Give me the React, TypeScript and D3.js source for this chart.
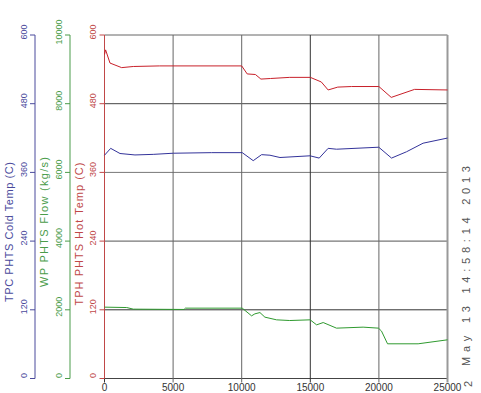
import React, { useEffect, useRef } from "react";
import * as d3 from "d3";

const timeTicks = [0, 5000, 10000, 15000, 20000, 25000];
const tempTicks = [0, 120, 240, 360, 480, 600];
const flowTicks = [0, 2000, 4000, 6000, 8000, 10000];

const hotTime = [0, 80, 400, 1250, 2100, 4000, 10000, 10400, 11000, 11400, 12100, 13500, 15000, 15800, 16300, 17000, 18000, 20000, 20900, 22600, 25000];
const hotTemp = [566, 574, 551, 543, 545, 546, 546, 532, 531, 523, 524, 526, 526, 518, 504, 509, 510, 510, 491, 505, 504];

const coldTime = [0, 450, 1130, 2220, 3550, 5010, 7810, 10040, 10840, 11450, 12060, 12790, 14980, 15650, 16300, 16910, 19990, 20920, 22010, 23220, 25000];
const coldTemp = [390, 402, 393, 390.5, 391.5, 393.5, 394.5, 394.5, 380.5, 391, 390, 386, 389, 385, 402, 400.5, 404, 385, 396, 411, 420];

const flowTime = [0, 1620, 2100, 5800, 5900, 10040, 10720, 10960, 11330, 11690, 12540, 13500, 14990, 15460, 15940, 16910, 18850, 19970, 20190, 20630, 22860, 25000];
const flowValue = [2077, 2066, 2019, 2010, 2048, 2048, 1824, 1882, 1920, 1786, 1708, 1688, 1708, 1562, 1629, 1466, 1495, 1466, 1380, 1010, 1010, 1126];

const stamp = "May 13 14:58:14 2013";

const FONT = "'Liberation Sans', Arial, sans-serif";

export default function App() {
  const ref = useRef<SVGSVGElement>(null);

  useEffect(() => {
    const svg = d3.select(ref.current);
    svg.selectAll("*").remove();

    const x = d3.scaleLinear().domain([0, 25000]).range([104.5, 447.5]);
    const yTemp = d3.scaleLinear().domain([0, 600]).range([378.5, 35]);
    const yFlow = d3.scaleLinear().domain([0, 10000]).range([378.5, 35]);

    const grid = svg.append("g");
    // horizontal grid
    const hColor: Record<number, string> = { 0: "#444", 120: "#333", 240: "#555", 360: "#777", 480: "#444", 600: "#666" };
    grid.selectAll(".h")
      .data(tempTicks)
      .join("line")
      .attr("x1", (d) => (d === 0 ? 100 : x(0)))
      .attr("x2", x(25000))
      .attr("y1", (d) => yTemp(d))
      .attr("y2", (d) => yTemp(d))
      .attr("stroke", (d) => hColor[d])
      .attr("stroke-width", 1);
    // vertical grid
    grid.selectAll(".v")
      .data(timeTicks.slice(1))
      .join("line")
      .attr("x1", (d) => x(d))
      .attr("x2", (d) => x(d))
      .attr("y1", yTemp(600))
      .attr("y2", yTemp(0) + 4)
      .attr("stroke", (d) => (d === 25000 ? "#999" : d === 15000 ? "#333" : "#666"))
      .attr("stroke-width", (d) => (d === 25000 ? 2 : 1));
    grid.append("line")
      .attr("x1", x(0)).attr("x2", x(0))
      .attr("y1", yTemp(0)).attr("y2", yTemp(0) + 4)
      .attr("stroke", "#333");

    // x tick labels
    svg.append("g").selectAll("text")
      .data(timeTicks)
      .join("text")
      .attr("x", (d) => x(d))
      .attr("y", 391)
      .attr("text-anchor", "middle")
      .attr("font-family", FONT)
      .attr("font-size", 10)
      .attr("fill", "#333")
      .text((d) => String(d));

    // left axes
    const axes = [
      { ax: 35, lx: 27, tx: 13, ticks: tempTicks, scale: yTemp, color: "#4a4a9c", title: "TPC PHTS Cold Temp (C)", len: 140, cy: 232 },
      { ax: 70, lx: 62, tx: 48, ticks: flowTicks, scale: yFlow, color: "#4a9c4a", title: "WP PHTS Flow (kg/s)", len: 130, cy: 222 },
      { ax: 104.5, lx: 96, tx: 83, ticks: tempTicks, scale: yTemp, color: "#c04848", title: "TPH PHTS Hot Temp (C)", len: 143, cy: 234 },
    ];
    axes.forEach((a) => {
      const g = svg.append("g");
      g.append("line")
        .attr("x1", a.ax).attr("x2", a.ax)
        .attr("y1", a.scale.range()[1]).attr("y2", a.scale.range()[0])
        .attr("stroke", a.color);
      g.selectAll(".tick")
        .data(a.ticks)
        .join("line")
        .attr("x1", a.ax - 5).attr("x2", a.ax)
        .attr("y1", (d) => a.scale(d)).attr("y2", (d) => a.scale(d))
        .attr("stroke", a.color);
      g.selectAll(".lab")
        .data(a.ticks)
        .join("text")
        .attr("transform", (d) => `translate(${a.lx},${a.scale(d) - 3}) rotate(-90)`)
        .attr("text-anchor", "middle")
        .attr("font-family", FONT)
        .attr("font-size", 9)
        .attr("fill", a.color)
        .text((d) => String(d));
      g.append("text")
        .attr("transform", `translate(${a.tx},${a.cy}) rotate(-90)`)
        .attr("text-anchor", "middle")
        .attr("font-family", FONT)
        .attr("font-size", 11)
        .attr("fill", a.color)
        .attr("textLength", a.len)
        .attr("lengthAdjust", "spacing")
        .text(a.title);
    });

    // series
    const series = [
      { t: hotTime, v: hotTemp, scale: yTemp, color: "#c8202a" },
      { t: coldTime, v: coldTemp, scale: yTemp, color: "#33339a" },
      { t: flowTime, v: flowValue, scale: yFlow, color: "#2f9a2f" },
    ];
    series.forEach((s) => {
      const line = d3.line<number>()
        .x((_, i) => x(s.t[i]))
        .y((d) => s.scale(d));
      svg.append("path")
        .attr("d", line(s.v))
        .attr("fill", "none")
        .attr("stroke", s.color)
        .attr("stroke-width", 1);
    });

    // timestamp
    svg.append("text")
      .attr("transform", `translate(470,266) rotate(-90)`)
      .attr("text-anchor", "middle")
      .attr("font-family", FONT)
      .attr("font-size", 11)
      .attr("fill", "#555")
      .attr("textLength", 200)
      .attr("lengthAdjust", "spacing")
      .text(stamp);
    svg.append("text")
      .attr("transform", `translate(472,384) rotate(-90)`)
      .attr("text-anchor", "middle")
      .attr("font-family", FONT)
      .attr("font-size", 11)
      .attr("fill", "#555")
      .text("2");
  }, []);

  return (
    <svg
      ref={ref}
      width={481}
      height={393}
      style={{ position: "absolute", left: 0, top: 0, background: "#fff" }}
    />
  );
}
